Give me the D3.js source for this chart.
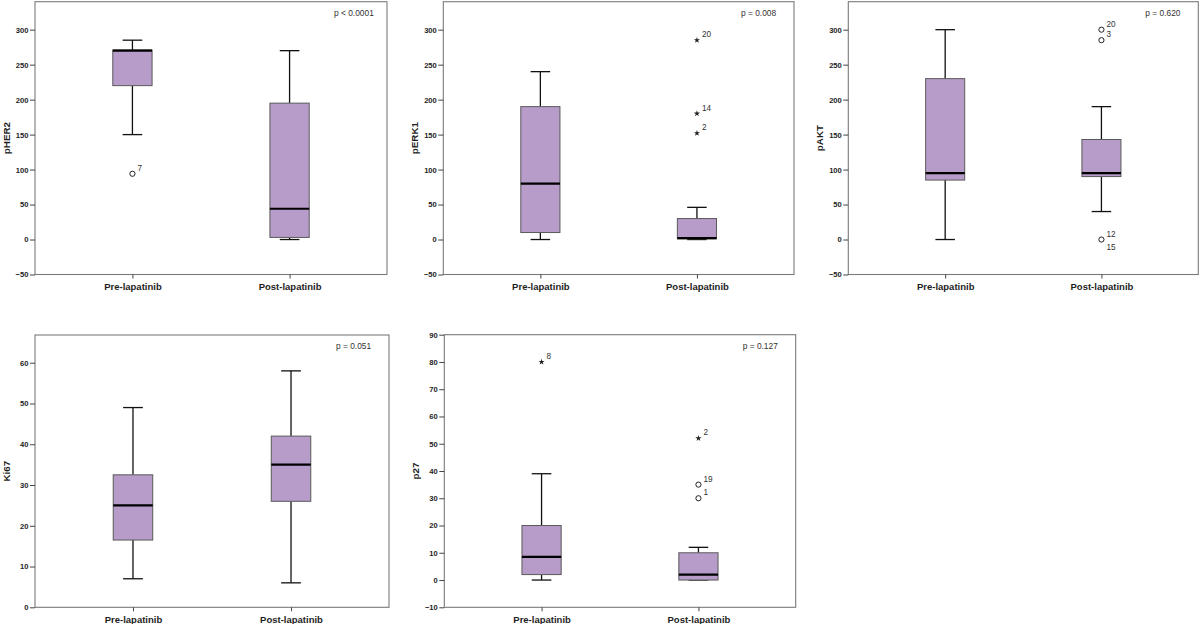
<!DOCTYPE html>
<html>
<head>
<meta charset="utf-8">
<script src="https://cdn.jsdelivr.net/npm/d3@7"></script>
<style>
  html, body { margin: 0; padding: 0; background: #fff; }
  svg { display: block; font-family: "Liberation Sans", Arial, sans-serif; }
</style>
</head>
<body>
<svg id="chart" width="1200" height="624"></svg>
<script>
// ---------------- DATA ----------------
const categories = ["Pre-lapatinib", "Post-lapatinib"];
const measures = ["pHER2", "pERK1", "pAKT", "Ki67", "p27"];
const pValueLabels = ["p < 0.0001", "p = 0.008", "p = 0.620", "p = 0.051", "p = 0.127"];

const yDomainMin = [-50, -50, -50, 0, -10];
const yDomainMax = [340, 340, 340, 66.8, 90];
const yTickValues = [
  [-50, 0, 50, 100, 150, 200, 250, 300],
  [-50, 0, 50, 100, 150, 200, 250, 300],
  [-50, 0, 50, 100, 150, 200, 250, 300],
  [0, 10, 20, 30, 40, 50, 60],
  [-10, 0, 10, 20, 30, 40, 50, 60, 70, 80, 90]
];

// box statistics per measure: [Pre, Post]
const whiskerLow  = [[150, 0],   [0, 0],    [0, 40],    [7, 6],     [0, 0]];
const quartile1   = [[220, 3],   [10, 1],   [85, 90],   [16.5, 26], [2, 0]];
const medianVals  = [[270, 44],  [80, 2],   [95, 95],   [25, 35],   [8.5, 2]];
const quartile3   = [[271, 195], [190, 30], [230, 143], [32.5, 42], [20, 10]];
const whiskerHigh = [[285, 270], [240, 46], [300, 190], [49, 58],   [39, 12]];

// outliers: measure index, category, value, case label, kind
const outlierMeasure  = [0, 1, 1, 1, 2, 2, 2, 2, 4, 4, 4, 4];
const outlierCategory = ["Pre-lapatinib", "Post-lapatinib", "Post-lapatinib", "Post-lapatinib",
                         "Post-lapatinib", "Post-lapatinib", "Post-lapatinib", "Post-lapatinib",
                         "Pre-lapatinib", "Post-lapatinib", "Post-lapatinib", "Post-lapatinib"];
const outlierValue    = [94, 285, 180, 152, 300, 285, 0, 0, 80, 52, 35, 30];
const outlierLabel    = ["7", "20", "14", "2", "20", "3", "12", "15", "8", "2", "19", "1"];
const outlierKind     = ["circle", "star", "star", "star", "circle", "circle", "circle", "circle",
                         "star", "star", "circle", "circle"];

// ---------------- LAYOUT ----------------
const panelFrames = [
  { x0: 35,    x1: 387,    y0: 1.7,   y1: 274.5 },
  { x0: 443.3, x1: 794,    y0: 1.7,   y1: 274.5 },
  { x0: 848.3, x1: 1198.3, y0: 1.7,   y1: 274.5 },
  { x0: 35,    x1: 389,    y0: 335,   y1: 607.3 },
  { x0: 444.3, x1: 795.7,  y0: 334.7, y1: 607.3 }
];

const boxFill = "#b79bc9";
const boxStroke = "#5a5a5a";
const frameStroke = "#7a7a7a";
const textColor = "#1e1e1e";

const svg = d3.select("#chart");

measures.forEach((m, i) => {
  const f = panelFrames[i];
  const g = svg.append("g");

  const x = d3.scalePoint().domain(categories).range([f.x0, f.x1]).padding(0.62);
  const y = d3.scaleLinear().domain([yDomainMin[i], yDomainMax[i]]).range([f.y1, f.y0]);
  const step = x.step();
  const boxW = step * 0.25;
  const capW = boxW / 2;

  // frame
  g.append("rect")
    .attr("x", f.x0).attr("y", f.y0)
    .attr("width", f.x1 - f.x0).attr("height", f.y1 - f.y0)
    .attr("fill", "none").attr("stroke", frameStroke).attr("stroke-width", 1.1);

  // y axis
  const yAxis = d3.axisLeft(y).tickValues(yTickValues[i]).tickSize(5).tickPadding(1.5).tickFormat(d3.format("d"));
  const ya = g.append("g").attr("transform", `translate(${f.x0},0)`).call(yAxis);
  ya.select(".domain").remove();
  ya.selectAll(".tick line").attr("stroke", "#444").attr("stroke-width", 1);
  ya.selectAll(".tick text")
    .attr("fill", textColor).style("font-size", "7.6px").style("font-weight", "bold")
    .style("font-family", "'Liberation Sans', Arial, sans-serif");

  // x axis
  const xAxis = d3.axisBottom(x).tickSize(4).tickPadding(5);
  const xa = g.append("g").attr("transform", `translate(0,${f.y1})`).call(xAxis);
  xa.select(".domain").remove();
  xa.selectAll(".tick line").attr("stroke", "#444").attr("stroke-width", 1);
  xa.selectAll(".tick text")
    .attr("fill", textColor).style("font-size", "9.5px").style("font-weight", "bold")
    .style("font-family", "'Liberation Sans', Arial, sans-serif");

  // y title
  g.append("text")
    .attr("transform", `translate(${f.x0 - 25.5},${(f.y0 + f.y1) / 2}) rotate(-90)`)
    .attr("text-anchor", "middle")
    .attr("fill", textColor)
    .style("font-size", "9.8px").style("font-weight", "bold")
    .text(m);

  // p-value
  g.append("text")
    .attr("x", f.x0 + (f.x1 - f.x0) - 53)
    .attr("y", f.y0 + 14)
    .attr("fill", "#333")
    .style("font-size", "8.4px")
    .text(pValueLabels[i]);

  // boxes
  categories.forEach((c, j) => {
    const cx = x(c);
    const lo = whiskerLow[i][j], q1 = quartile1[i][j], md = medianVals[i][j],
          q3 = quartile3[i][j], hi = whiskerHigh[i][j];
    g.append("line").attr("x1", cx).attr("x2", cx).attr("y1", y(q3)).attr("y2", y(hi))
      .attr("stroke", "#111").attr("stroke-width", 1.3);
    g.append("line").attr("x1", cx).attr("x2", cx).attr("y1", y(q1)).attr("y2", y(lo))
      .attr("stroke", "#111").attr("stroke-width", 1.3);
    g.append("line").attr("x1", cx - capW / 2).attr("x2", cx + capW / 2).attr("y1", y(hi)).attr("y2", y(hi))
      .attr("stroke", "#111").attr("stroke-width", 1.3);
    g.append("line").attr("x1", cx - capW / 2).attr("x2", cx + capW / 2).attr("y1", y(lo)).attr("y2", y(lo))
      .attr("stroke", "#111").attr("stroke-width", 1.3);
    g.append("rect")
      .attr("x", cx - boxW / 2).attr("y", y(q3))
      .attr("width", boxW).attr("height", Math.max(0.5, y(q1) - y(q3)))
      .attr("fill", boxFill).attr("stroke", boxStroke).attr("stroke-width", 1);
    g.append("line").attr("x1", cx - boxW / 2).attr("x2", cx + boxW / 2).attr("y1", y(md)).attr("y2", y(md))
      .attr("stroke", "#000").attr("stroke-width", 2.2);
  });

  // outliers
  const seen = {};
  outlierValue.forEach((v, k) => {
    if (outlierMeasure[k] !== i) return;
    const cx = x(outlierCategory[k]);
    const cy = y(v);
    const key = outlierCategory[k] + "|" + v;
    const dup = seen[key] ? 1 : 0;
    seen[key] = true;
    if (outlierKind[k] === "circle") {
      if (!dup) {
        g.append("circle").attr("cx", cx).attr("cy", cy).attr("r", 2.6)
          .attr("fill", "none").attr("stroke", "#222").attr("stroke-width", 1);
      }
    } else {
      g.append("path").attr("transform", `translate(${cx},${cy})`)
        .attr("d", d3.symbol().type(d3.symbolStar).size(12)())
        .attr("fill", "#222");
    }
    g.append("text")
      .attr("x", cx + 5)
      .attr("y", cy + (dup ? 10 : -3))
      .attr("fill", "#333")
      .style("font-size", "8.2px")
      .text(outlierLabel[k]);
  });
});
</script>
</body>
</html>
